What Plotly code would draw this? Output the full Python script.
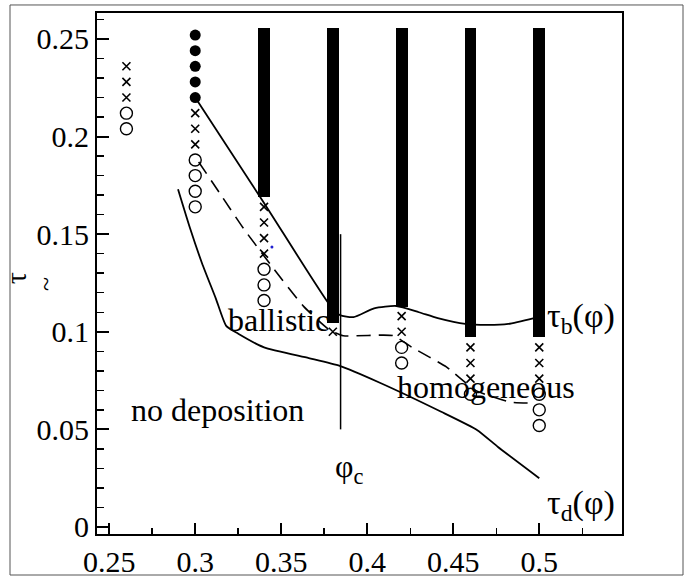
import plotly.graph_objects as go

# ---- data ----
filled_x = [0.30, 0.30, 0.30, 0.30, 0.30]
filled_y = [0.252, 0.244, 0.236, 0.228, 0.220]

cross_x = [0.26, 0.26, 0.26, 0.30, 0.30, 0.30, 0.34, 0.34, 0.34, 0.34, 0.38,
           0.42, 0.42, 0.46, 0.46, 0.46, 0.50, 0.50, 0.50]
cross_y = [0.236, 0.228, 0.220, 0.212, 0.204, 0.196, 0.164, 0.156, 0.148, 0.140, 0.100,
           0.108, 0.100, 0.092, 0.084, 0.076, 0.092, 0.084, 0.076]

circle_x = [0.26, 0.26, 0.30, 0.30, 0.30, 0.30, 0.34, 0.34, 0.34, 0.42, 0.42, 0.46,
            0.50, 0.50, 0.50]
circle_y = [0.212, 0.204, 0.188, 0.180, 0.172, 0.164, 0.132, 0.124, 0.116, 0.092, 0.084, 0.068,
            0.068, 0.060, 0.052]

bar_x = [0.34, 0.38, 0.42, 0.46, 0.50]
bar_top = [0.2555, 0.2555, 0.2555, 0.2555, 0.2555]
bar_bottom = [0.169, 0.1045, 0.1127, 0.0973, 0.0973]

taub_x = [0.300, 0.340, 0.378, 0.384, 0.392, 0.404, 0.417, 0.430, 0.441, 0.457, 0.470, 0.482, 0.497]
taub_y = [0.220, 0.166, 0.114, 0.1086, 0.1075, 0.112, 0.1132, 0.110, 0.107, 0.104, 0.1035, 0.104, 0.107]

dash_x = [0.302, 0.315, 0.328, 0.345, 0.363, 0.378, 0.386, 0.415, 0.426, 0.446, 0.463, 0.483, 0.497]
dash_y = [0.187, 0.170, 0.153, 0.133, 0.113, 0.101, 0.098, 0.098, 0.092, 0.082, 0.070, 0.064, 0.0635]

taud_x = [0.290, 0.297, 0.304, 0.312, 0.318, 0.325, 0.340, 0.366, 0.384, 0.407, 0.443, 0.464, 0.476, 0.500]
taud_y = [0.173, 0.153, 0.135, 0.117, 0.103, 0.099, 0.092, 0.0865, 0.0825, 0.074, 0.059, 0.0496, 0.041, 0.025]

phic_x = [0.3845, 0.3845]
phic_y = [0.05, 0.15]

dot_x = [0.3446]
dot_y = [0.1434]

x_ticks = [0.25, 0.30, 0.35, 0.40, 0.45, 0.50]
x_tick_text = ["0.25", "0.3", "0.35", "0.4", "0.45", "0.5"]
y_ticks = [0, 0.05, 0.10, 0.15, 0.20, 0.25]
y_tick_text = ["0", "0.05", "0.1", "0.15", "0.2", "0.25"]

FONT = "Liberation Serif"

fig = go.Figure()

fig.add_trace(go.Bar(
    x=bar_x, y=[t - b for t, b in zip(bar_top, bar_bottom)], base=bar_bottom,
    width=0.0069, marker=dict(color="black", line=dict(width=0)), showlegend=False))

fig.add_trace(go.Scatter(x=taub_x, y=taub_y, mode="lines", line=dict(color="black", width=1.8, shape="spline", smoothing=0.6), showlegend=False))
fig.add_trace(go.Scatter(x=dash_x, y=dash_y, mode="lines", line=dict(color="black", width=1.6, dash="14px,8px", shape="spline", smoothing=0.5), showlegend=False))
fig.add_trace(go.Scatter(x=taud_x, y=taud_y, mode="lines", line=dict(color="black", width=1.8, shape="spline", smoothing=0.5), showlegend=False))
fig.add_trace(go.Scatter(x=phic_x, y=phic_y, mode="lines", line=dict(color="black", width=1.5), showlegend=False))

fig.add_trace(go.Scatter(x=filled_x, y=filled_y, mode="markers",
                         marker=dict(symbol="circle", size=11, color="black"), showlegend=False))
fig.add_trace(go.Scatter(x=cross_x, y=cross_y, mode="markers",
                         marker=dict(symbol="x-thin-open", size=8, color="black", line=dict(color="black", width=1.6)), showlegend=False))
fig.add_trace(go.Scatter(x=circle_x, y=circle_y, mode="markers",
                         marker=dict(symbol="circle-open", size=12, color="black", line=dict(color="black", width=1.4)), showlegend=False))
fig.add_trace(go.Scatter(x=dot_x, y=dot_y, mode="markers",
                         marker=dict(symbol="circle", size=3, color="#2020d0"), showlegend=False))

ann_font = dict(family=FONT, size=32, color="black")
annotations = [
    dict(x=0.3485, y=0.106, text="ballistic", xanchor="center", yanchor="middle"),
    dict(x=0.469, y=0.0717, text="homogeneous", xanchor="center", yanchor="middle"),
    dict(x=0.313, y=0.060, text="no deposition", xanchor="center", yanchor="middle"),
    dict(x=0.5033, y=0.107, text="τ<sub>b</sub>(φ)", xanchor="left", yanchor="middle",
         font=dict(family=FONT, size=34, color="black")),
    dict(x=0.5033, y=0.0115, text="τ<sub>d</sub>(φ)", xanchor="left", yanchor="middle",
         font=dict(family=FONT, size=34, color="black")),
    dict(x=0.380, y=0.030, text="φ<sub>c</sub>", xanchor="left", yanchor="middle"),
]
for a in annotations:
    a.setdefault("font", ann_font)
    a.update(xref="x", yref="y", showarrow=False)

annotations.append(dict(xref="paper", yref="paper", x=-0.156, y=0.491, text="τ", textangle=-90,
                        xanchor="center", yanchor="middle",
                        showarrow=False, font=dict(family=FONT, size=30, color="black")))
annotations.append(dict(xref="paper", yref="paper", x=-0.097, y=0.480, text="~", textangle=-90,
                        xanchor="center", yanchor="middle",
                        showarrow=False, font=dict(family=FONT, size=26, color="black")))

fig.update_layout(
    width=692, height=577,
    margin=dict(l=97, r=70, t=13, b=43, autoexpand=False),
    paper_bgcolor="white", plot_bgcolor="white",
    barmode="overlay", bargap=0,
    annotations=annotations,
    font=dict(family=FONT, size=30, color="black"),
    shapes=[dict(type="rect", xref="paper", yref="paper", x0=-0.1657, x1=1.1162, y0=-0.0787, y1=1.0154,
                 line=dict(color="#555555", width=1), fillcolor="rgba(0,0,0,0)", layer="below")],
)

fig.update_xaxes(range=[0.2429, 0.5481], tickvals=x_ticks, ticktext=x_tick_text,
                 ticks="inside", ticklen=11, tickwidth=2, tickcolor="black",
                 minor=dict(dtick=0.025, tick0=0.25, ticks="inside", ticklen=6, tickwidth=1.5, tickcolor="black"),
                 showline=True, linecolor="black", linewidth=2, mirror=True,
                 showgrid=False, zeroline=False, tickfont=dict(family=FONT, size=30, color="black"))
fig.update_yaxes(range=[-0.0036, 0.2633], tickvals=y_ticks, ticktext=y_tick_text,
                 ticks="inside", ticklen=12, tickwidth=2, tickcolor="black",
                 minor=dict(dtick=0.01, tick0=0, ticks="inside", ticklen=7, tickwidth=1.5, tickcolor="black"),
                 showline=True, linecolor="black", linewidth=2, mirror=True,
                 showgrid=False, zeroline=False, tickfont=dict(family=FONT, size=30, color="black"))

fig.write_html("out.html", config={"displayModeBar": False, "staticPlot": True},
               post_script="document.body.style.margin='0';document.body.style.overflow='hidden';")
